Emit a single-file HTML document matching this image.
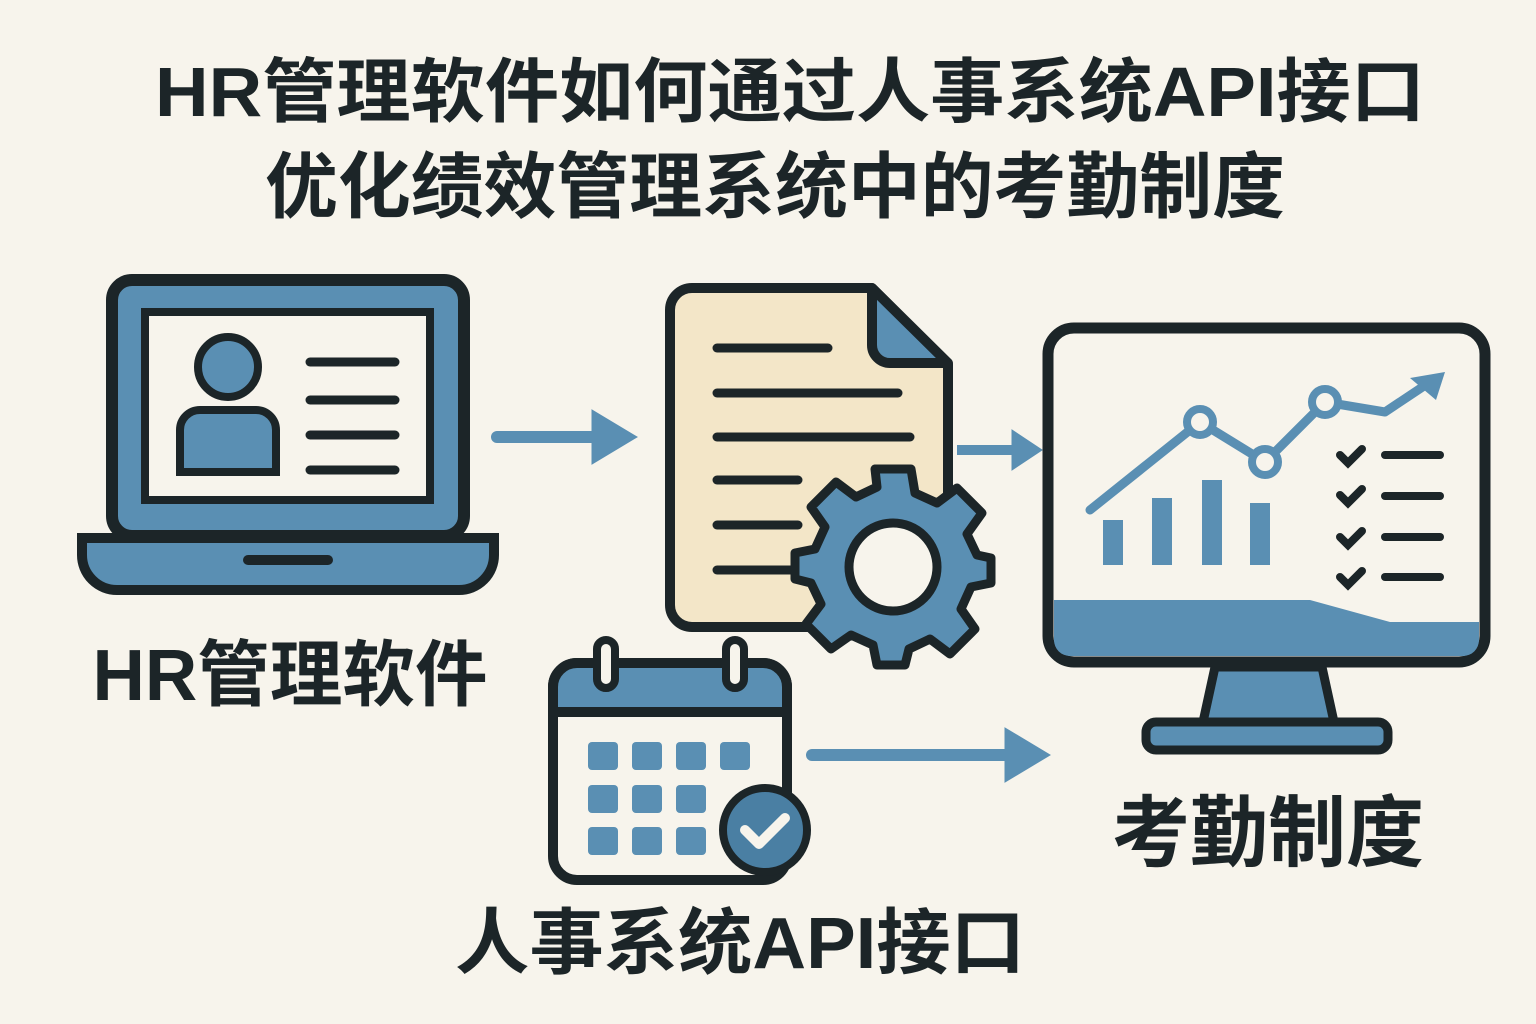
<!DOCTYPE html>
<html><head><meta charset="utf-8"><style>
html,body{margin:0;padding:0;background:#f7f4ec;}
svg{display:block}
text{font-family:"Liberation Sans","Noto Sans CJK SC",sans-serif;font-weight:bold;fill:#1c2528}
</style></head><body>
<svg width="1536" height="1024" viewBox="0 0 1536 1024" xmlns="http://www.w3.org/2000/svg">
<rect width="1536" height="1024" fill="#f7f4ec"/>
<text x="790" y="116" font-size="70" text-anchor="middle" textLength="1270" lengthAdjust="spacingAndGlyphs">HR管理软件如何通过人事系统API接口</text>
<text x="775" y="212" font-size="72" text-anchor="middle" textLength="1020" lengthAdjust="spacingAndGlyphs">优化绩效管理系统中的考勤制度</text>

<!-- laptop -->
<rect x="112" y="280" width="352" height="256" rx="20" fill="#5a8fb3" stroke="#1c2528" stroke-width="12"/>
<rect x="145" y="312" width="285" height="188" fill="#f7f4ec" stroke="#1c2528" stroke-width="8"/>
<circle cx="228" cy="367" r="30" fill="#5a8fb3" stroke="#1c2528" stroke-width="8"/>
<path d="M180 472 V430 a20 20 0 0 1 20 -20 H256 a20 20 0 0 1 20 20 V472 Z" fill="#5a8fb3" stroke="#1c2528" stroke-width="8"/>
<g stroke="#1c2528" stroke-width="9" stroke-linecap="round">
<line x1="310" y1="362" x2="395" y2="362"/><line x1="310" y1="400" x2="395" y2="400"/>
<line x1="310" y1="435" x2="395" y2="435"/><line x1="310" y1="470" x2="395" y2="470"/></g>
<path d="M82 538 H494 V555 a35 35 0 0 1 -35 35 H117 a35 35 0 0 1 -35 -35 Z" fill="#5a8fb3" stroke="#1c2528" stroke-width="10"/>
<line x1="248" y1="560" x2="328" y2="560" stroke="#1c2528" stroke-width="10" stroke-linecap="round"/>
<text x="290" y="700" font-size="72" text-anchor="middle" textLength="395" lengthAdjust="spacingAndGlyphs">HR管理软件</text>

<!-- arrows -->
<g fill="#5a8fb3" stroke="#5a8fb3">
<line x1="497" y1="437" x2="600" y2="437" stroke-width="12" stroke-linecap="round"/>
<path d="M592 410 L637 437 L592 464 Z"/>
<line x1="957" y1="450" x2="1015" y2="450" stroke-width="10"/>
<path d="M1012 430 L1042 450 L1012 470 Z"/>
<line x1="812" y1="755" x2="1010" y2="755" stroke-width="12" stroke-linecap="round"/>
<path d="M1005 728 L1050 755 L1005 782 Z"/>
</g>

<!-- document -->
<path d="M692 288 H872 L948 364 V605 a22 22 0 0 1 -22 22 H692 a22 22 0 0 1 -22 -22 V310 a22 22 0 0 1 22 -22 Z" fill="#f3e6c8" stroke="#1c2528" stroke-width="10" stroke-linejoin="round"/>
<path d="M872 288 V345 a18 18 0 0 0 18 18 H948 Z" fill="#5a8fb3" stroke="#1c2528" stroke-width="10" stroke-linejoin="round"/>
<g stroke="#1c2528" stroke-width="9" stroke-linecap="round">
<line x1="717" y1="348" x2="828" y2="348"/><line x1="717" y1="393" x2="898" y2="393"/>
<line x1="717" y1="437" x2="910" y2="437"/><line x1="717" y1="480" x2="798" y2="480"/>
<line x1="717" y1="525" x2="798" y2="525"/><line x1="717" y1="570" x2="798" y2="570"/></g>
<g transform="translate(893,567)">
<g fill="#5a8fb3" stroke="#1c2528" stroke-width="9" stroke-linejoin="round">
<path d="M-18 -98 H18 L22 -74 L44 -64 L64 -79 L89 -54 L74 -33 L84 -12 L98 -9 V16 L78 20 L68 42 L82 62 L57 87 L37 72 L16 82 L12 98 H-16 L-20 78 L-42 68 L-62 82 L-87 57 L-72 37 L-82 16 L-98 12 V-14 L-78 -18 L-68 -40 L-82 -60 L-57 -85 L-37 -70 L-16 -80 Z"/></g>
<circle r="44" fill="#f7f4ec" stroke="#1c2528" stroke-width="9"/></g>

<!-- monitor -->
<rect x="1048" y="328" width="437" height="334" rx="26" fill="#f7f4ec" stroke="#1c2528" stroke-width="11"/>
<path d="M1054 600 H1310 L1390 622 H1479 V640 a16 16 0 0 1 -16 16 H1070 a16 16 0 0 1 -16 -16 Z" fill="#5a8fb3"/>
<path d="M1215 667 H1322 L1334 722 H1203 Z" fill="#5a8fb3" stroke="#1c2528" stroke-width="9"/>
<rect x="1146" y="722" width="242" height="28" rx="10" fill="#5a8fb3" stroke="#1c2528" stroke-width="9"/>
<g fill="#5a8fb3">
<rect x="1103" y="520" width="20" height="45"/><rect x="1152" y="498" width="20" height="67"/>
<rect x="1202" y="480" width="20" height="85"/><rect x="1250" y="503" width="20" height="62"/></g>
<polyline points="1090,510 1200,422 1265,462 1325,402 1385,412 1430,382" fill="none" stroke="#5a8fb3" stroke-width="9" stroke-linecap="round" stroke-linejoin="round"/>
<path d="M1410 378 L1445 372 L1436 400 Z" fill="#5a8fb3"/>
<g fill="#f7f4ec" stroke="#5a8fb3" stroke-width="8">
<circle cx="1200" cy="422" r="13"/><circle cx="1265" cy="462" r="13"/><circle cx="1325" cy="402" r="13"/></g>
<g stroke="#1c2528" stroke-width="8" stroke-linecap="round" fill="none">
<path d="M1340 455 l8 8 l14 -14"/><path d="M1340 495 l8 8 l14 -14"/><path d="M1340 537 l8 8 l14 -14"/><path d="M1340 577 l8 8 l14 -14"/>
<line x1="1385" y1="455" x2="1440" y2="455"/><line x1="1385" y1="496" x2="1440" y2="496"/>
<line x1="1385" y1="537" x2="1440" y2="537"/><line x1="1385" y1="577" x2="1440" y2="577"/></g>
<text x="1268" y="860" font-size="78" text-anchor="middle" textLength="312" lengthAdjust="spacingAndGlyphs">考勤制度</text>

<!-- calendar -->
<rect x="553" y="663" width="234" height="217" rx="24" fill="#f7f4ec" stroke="#1c2528" stroke-width="10"/>
<path d="M577 663 H763 a24 24 0 0 1 24 24 V712 H553 V687 a24 24 0 0 1 24 -24 Z" fill="#5a8fb3" stroke="#1c2528" stroke-width="10"/>
<rect x="597" y="640" width="18" height="48" rx="9" fill="#f7f4ec" stroke="#1c2528" stroke-width="8"/>
<rect x="726" y="640" width="18" height="48" rx="9" fill="#f7f4ec" stroke="#1c2528" stroke-width="8"/>
<g fill="#5a8fb3">
<rect x="588" y="742" width="30" height="28" rx="4"/><rect x="632" y="742" width="30" height="28" rx="4"/><rect x="676" y="742" width="30" height="28" rx="4"/><rect x="720" y="742" width="30" height="28" rx="4"/>
<rect x="588" y="785" width="30" height="28" rx="4"/><rect x="632" y="785" width="30" height="28" rx="4"/><rect x="676" y="785" width="30" height="28" rx="4"/>
<rect x="588" y="827" width="30" height="28" rx="4"/><rect x="632" y="827" width="30" height="28" rx="4"/><rect x="676" y="827" width="30" height="28" rx="4"/></g>
<circle cx="765" cy="830" r="42" fill="#4a7fa3" stroke="#1c2528" stroke-width="8"/>
<path d="M745 830 l14 14 l26 -26" fill="none" stroke="#f7f4ec" stroke-width="10" stroke-linecap="round" stroke-linejoin="round"/>
<text x="740" y="968" font-size="72" text-anchor="middle" textLength="570" lengthAdjust="spacingAndGlyphs">人事系统API接口</text>
</svg>
</body></html>
